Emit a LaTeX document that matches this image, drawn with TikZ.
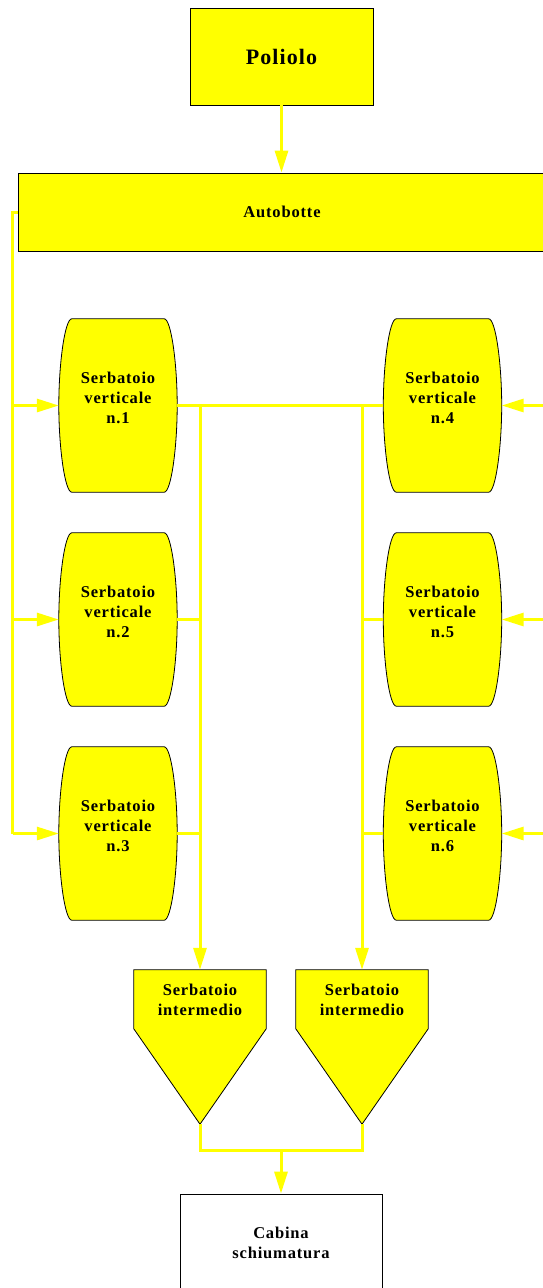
\documentclass[tikz,border=0pt]{standalone}
\usepackage{fontspec}
\newfontfamily\lblfont{Liberation Serif}[LetterSpace=5]
\usetikzlibrary{arrows.meta,calc}
\definecolor{yel}{RGB}{255,255,0}
\pgfdeclarelayer{background}
\pgfsetlayers{background,main}
\begin{document}
\begin{tikzpicture}[x=1pt,y=-1pt,
  lbl/.style={align=center,font=\lblfont\bfseries\fontsize{16.5}{20}\selectfont},
  box/.style={lbl,draw=black,line width=0.8pt,fill=yel,inner sep=0pt},
  tankbox/.style={inner sep=0pt,minimum width=118pt,minimum height=173pt},
  hopper/.style={inner sep=0pt,minimum width=132pt,minimum height=154pt},
  outline/.style={draw=black,line width=0.8pt,fill=yel},
  ln/.style={draw=yel,line width=3pt},
  arr/.style={ln,-{Triangle[length=22pt,width=13pt]}}]
\useasboundingbox (0,0) rectangle (542,1288);
\coordinate (edge) at (545,0);

\node[box,minimum width=183pt,minimum height=97pt,font=\lblfont\bfseries\fontsize{22}{26}\selectfont] (pol) at (281.5,56.5) {Poliolo};
\node[box,minimum width=528pt,minimum height=78pt] (auto) at (282,212) {Autobotte};

\node[tankbox,label={[lbl,yshift=7.5pt]center:Serbatoio\\verticale\\n.1}] (t1) at (118,405.5) {};
\node[tankbox,label={[lbl,yshift=7.5pt]center:Serbatoio\\verticale\\n.2}] (t2) at (118,619.5) {};
\node[tankbox,label={[lbl,yshift=7.5pt]center:Serbatoio\\verticale\\n.3}] (t3) at (118,833.5) {};
\node[tankbox,label={[lbl,yshift=7.5pt]center:Serbatoio\\verticale\\n.4}] (t4) at (442.5,405.5) {};
\node[tankbox,label={[lbl,yshift=7.5pt]center:Serbatoio\\verticale\\n.5}] (t5) at (442.5,619.5) {};
\node[tankbox,label={[lbl,yshift=7.5pt]center:Serbatoio\\verticale\\n.6}] (t6) at (442.5,833.5) {};

\node[hopper,label={[lbl,yshift=47pt]center:Serbatoio\\intermedio}] (i1) at (200,1047) {};
\node[hopper,label={[lbl,yshift=47pt]center:Serbatoio\\intermedio}] (i2) at (362,1047) {};

\node[box,fill=white,minimum width=202pt,minimum height=98pt] (cab) at (281,1243) {Cabina\\schiumatura};

\begin{pgfonlayer}{background}
\foreach \n in {t1,t2,t3,t4,t5,t6}{
  \draw[outline] ($(\n.north west)+(13,0)$) -- ($(\n.north east)+(-13,0)$)
    .. controls ($(\n.north east)+(-6,0)$) and ($(\n.north east)+(0,45)$) .. (\n.east)
    .. controls ($(\n.south east)+(0,-45)$) and ($(\n.south east)+(-6,0)$) .. ($(\n.south east)+(-13,0)$)
    -- ($(\n.south west)+(13,0)$)
    .. controls ($(\n.south west)+(6,0)$) and ($(\n.south west)+(0,-45)$) .. (\n.west)
    .. controls ($(\n.north west)+(0,45)$) and ($(\n.north west)+(6,0)$) .. cycle;
}
\foreach \n in {i1,i2}{
  \draw[outline] (\n.north west) -- (\n.north east) -- ($(\n.north east)+(0,59)$)
    -- (\n.south) -- ($(\n.north west)+(0,59)$) -- cycle;
}
\end{pgfonlayer}

\draw[arr] (pol.south) -- (pol.south |- auto.north);

\draw[ln] (auto.west) -- ++(-5,0) coordinate (L) -- (L |- t3.west);
\draw[arr] (L |- t3.west) -- (t3.west);
\draw[arr] (L |- t1.west) -- (t1.west);
\draw[arr] (L |- t2.west) -- (t2.west);

\draw[arr] (edge |- t4.east) -- (t4.east);
\draw[arr] (edge |- t5.east) -- (t5.east);
\draw[arr] (edge |- t6.east) -- (t6.east);

\draw[ln] (t1.east) -- (t4.west);
\draw[ln] (t2.east) -- (t2.east -| i1.north);
\draw[ln] (t3.east) -- (t3.east -| i1.north);
\draw[arr] (t1.east -| i1.north) -- (i1.north);
\draw[ln] (t5.west) -- (t5.west -| i2.north);
\draw[ln] (t6.west) -- (t6.west -| i2.north);
\draw[arr] (t4.west -| i2.north) -- (i2.north);

\draw[ln] (i1.south) -- ++(0,26) coordinate (B1) -| (i2.south);
\draw[arr] ($(B1)!0.5!(B1 -| i2.south)$) -- (cab.north);
\end{tikzpicture}
\end{document}
